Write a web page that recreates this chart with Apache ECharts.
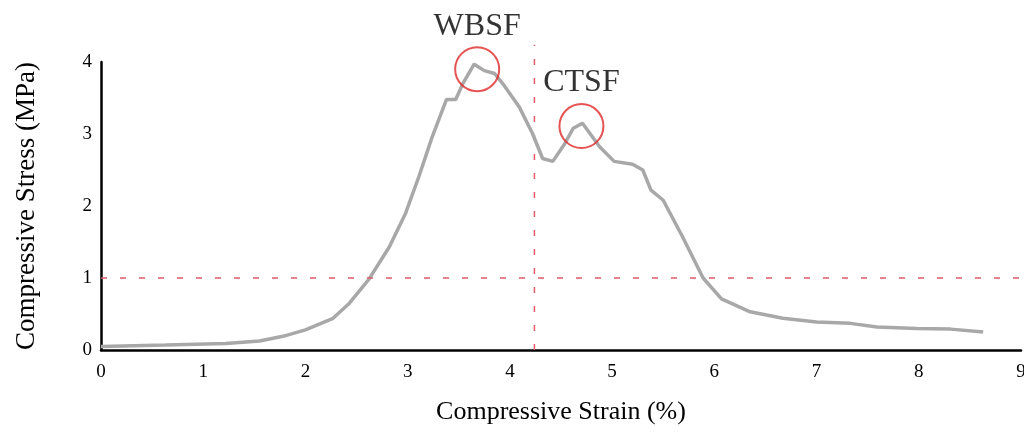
<!DOCTYPE html>
<html>
<head>
<meta charset="utf-8">
<script src="https://cdn.jsdelivr.net/npm/echarts@6/dist/echarts.min.js"></script>
<style>html,body{margin:0;padding:0;background:#fff;}#c{width:1024px;height:432px;}</style>
</head>
<body>
<div id="c"></div>
<script>
var strain = [0.0, 0.63, 1.22, 1.55, 1.78, 2.00, 2.27, 2.43, 2.59, 2.62, 2.82, 2.98, 3.11, 3.24, 3.38, 3.47, 3.54, 3.65, 3.75, 3.85, 3.93, 4.09, 4.22, 4.32, 4.42, 4.53, 4.62, 4.71, 4.88, 5.02, 5.20, 5.30, 5.38, 5.50, 5.69, 5.89, 6.07, 6.35, 6.67, 7.00, 7.33, 7.59, 7.98, 8.31, 8.63];
var stress = [0.05, 0.07, 0.09, 0.125, 0.19, 0.28, 0.44, 0.65, 0.93, 0.98, 1.43, 1.90, 2.41, 2.96, 3.48, 3.48, 3.70, 3.97, 3.88, 3.84, 3.70, 3.38, 3.01, 2.66, 2.62, 2.85, 3.08, 3.15, 2.82, 2.62, 2.58, 2.50, 2.22, 2.08, 1.57, 1.00, 0.71, 0.53, 0.44, 0.39, 0.37, 0.32, 0.30, 0.29, 0.25];
var peakNames = ['WBSF', 'CTSF'];
var peakStrain = [3.68, 4.70];
var peakStress = [3.90, 3.11];
var refStress = 1;
var refStrain = 4.24;
var refLineTop = 4.24;
var xTicks = [0, 9, 1];
var yTicks = [0, 4, 1];

var font = 'Liberation Serif';
var curve = strain.map(function (x, i) { return [x, stress[i]]; });
var peaks = peakNames.map(function (n, i) { return { name: n, value: [peakStrain[i], peakStress[i]] }; });
var dashColor = '#e05a6a';

var chart = echarts.init(document.getElementById('c'), null, { renderer: 'canvas' });
chart.setOption({
  animation: false,
  backgroundColor: '#fff',
  grid: { left: 101, right: 3, top: 62, bottom: 82, containLabel: false, outerBoundsMode: 'none' },
  xAxis: {
    type: 'value', min: xTicks[0], max: xTicks[1], interval: xTicks[2],
    name: 'Compressive Strain (%)', nameLocation: 'middle', nameGap: 49,
    nameTextStyle: { fontFamily: font, fontSize: 26, color: '#000' },
    axisLine: { lineStyle: { color: '#000', width: 2.5 } },
    axisTick: { show: false },
    splitLine: { show: false },
    axisLabel: { fontFamily: font, fontSize: 19, color: '#000', margin: 13 }
  },
  yAxis: {
    type: 'value', min: yTicks[0], max: yTicks[1], interval: yTicks[2],
    name: 'Compressive Stress (MPa)', nameLocation: 'middle', nameGap: 61,
    nameTextStyle: { fontFamily: font, fontSize: 27, color: '#000' },
    axisLine: { show: true, lineStyle: { color: '#000', width: 2.5 } },
    axisTick: { show: false },
    splitLine: { show: false },
    axisLabel: { fontFamily: font, fontSize: 19, color: '#000', margin: 9 }
  },
  series: [
    {
      type: 'line', data: curve, showSymbol: false, smooth: false,
      lineStyle: { color: '#a8a8a8', width: 3.5 },
      z: 3,
      markLine: {
        silent: true, symbol: 'none',
        label: { show: false },
        lineStyle: { color: dashColor, type: [6, 13], width: 1.5 },
        data: [{ yAxis: refStress }]
      }
    },
    {
      type: 'line', data: [[refStrain, 0], [refStrain, refLineTop]], showSymbol: false, clip: false,
      lineStyle: { color: dashColor, type: [6, 13], width: 1.5 }, z: 2
    },
    {
      type: 'scatter', data: peaks, symbol: 'circle', symbolSize: 44,
      itemStyle: { color: 'rgba(0,0,0,0)', borderColor: '#e02828', borderWidth: 2 },
      label: {
        show: true, position: 'top', distance: 4, formatter: '{b}',
        fontFamily: font, fontSize: 32, color: '#000'
      },
      z: 4
    }
  ]
});
</script>
</body>
</html>
